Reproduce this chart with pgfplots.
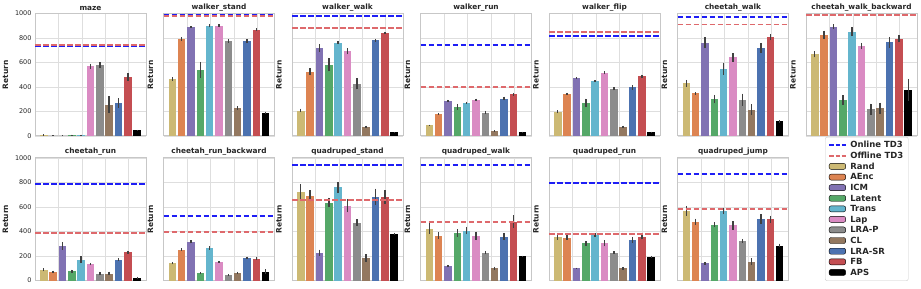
\documentclass[border=0pt]{standalone}
\usepackage{pgfplots}
\pgfplotsset{compat=1.18}
\usepackage{pgfplotstable}
\usepackage{fontspec}
\setmainfont{DejaVu Sans}
\definecolor{c0}{HTML}{CCB974}
\definecolor{c1}{HTML}{DD8452}
\definecolor{c2}{HTML}{8172B3}
\definecolor{c3}{HTML}{55A868}
\definecolor{c4}{HTML}{64B5CD}
\definecolor{c5}{HTML}{DA8BC3}
\definecolor{c6}{HTML}{8C8C8C}
\definecolor{c7}{HTML}{937860}
\definecolor{c8}{HTML}{4C72B0}
\definecolor{c9}{HTML}{C44E52}
\definecolor{c10}{HTML}{000000}
\definecolor{offred}{RGB}{222,105,108}
\definecolor{onblue}{RGB}{30,30,245}

\pgfplotstableread{
m      maze mazeE wstand wstandE wwalk wwalkE wrun wrunE wflip wflipE cwalk cwalkE cwb cwbE crun crunE crb crbE qstand qstandE qwalk qwalkE qrun qrunE qjump qjumpE
Rand   8   5    464 15  208 15  87  5   197 12  429 30  667 25  87  12  139 8   726 60  424 45  359 25  570 40
AEnc   3   2    792 15  525 30  180 8   342 10  347 10  825 35  73  8   253 12  693 45  367 30  351 20  480 25
ICM    3   2    888 8   719 30  287 8   470 8   762 45  893 20  283 30  315 12  228 25  117 10  98  8   140 10
Latent 8   3    541 65  582 55  238 25  270 35  301 35  295 40  76  12  60  10  636 40  389 30  304 20  455 20
Trans  8   3    899 12  762 15  270 8   451 5   549 50  852 35  171 25  264 15  761 45  408 30  372 15  570 25
Lap    568 20   899 12  691 25  295 10  516 12  642 35  735 25  133 10  152 8   611 55  364 35  304 25  450 35
LRA-P  579 25   776 15  426 45  191 15  385 12  295 50  219 45  57  15  41  8   473 25  226 12  228 10  325 15
CL     254 70   227 15  74  10  41  5   74  10  216 45  227 45  57  15  62  10  185 30  98  15  100 12  155 25
LRA-SR 268 40   776 15  781 12  306 15  396 20  721 40  765 45  171 12  185 10  685 65  359 30  332 25  500 40
FB     481 30   869 10  839 10  339 10  489 12  806 25  795 30  231 12  179 10  682 55  481 50  356 20  500 30
APS    46  5    189 10  30  3   30  5   30  5   120 10  377 90  24  5   71  20  378 8   198 5   193 8   285 15
}\data

\pgfplotsset{
  geom/.style={scale only axis, width=111bp, height=122.5bp, anchor=south west,
    xmin=-0.94, xmax=10.94, ymin=0, ymax=1000},
  panel/.style={
    geom,
    ytick={0,200,...,1000}, xtick={1.6,4.1,6.6,9.1}, xticklabels={},
    grid=major, grid style={color=black!13, line width=0.8bp},
    axis line style={color=black!22, line width=1bp},
    major tick length=0pt,
    ylabel={Return},
    ylabel style={font=\bfseries\fontsize{7.5}{9}\selectfont, color=black!85},
    title style={font=\bfseries\fontsize{7.4}{9}\selectfont, color=black!85, yshift=-7bp},
    yticklabel style={font=\fontsize{6.5}{7}\selectfont, color=black!85},
    /pgf/number format/assume math mode=true,
    /pgf/number format/1000 sep={},
    ybar, bar width=0.8, bar shift=0pt,
  },
  noticks/.style={yticklabels={}},
  refl/.style={sharp plot, no marks, color=#1, line width=1.9bp, dash pattern=on 5.5bp off 2.5bp},
}

\newcommand{\panel}[6]{%
\begin{axis}[panel, at={(#3)}, title={#2}, #4]
\pgfplotsinvokeforeach{0,...,10}{%
  \addplot[fill=c##1, draw=none, x filter/.expression={abs(x-##1)<0.5 ? x : nan},
    error bars/.cd, y dir=both, y explicit, error mark=none,
    error bar style={line width=1.4bp, color=black!75}]
    table[x expr=\coordindex, y=#1, y error=#1E] {\data};}
\end{axis}
\begin{axis}[geom, at={(#3)}, hide axis]
\addplot[refl=onblue] coordinates {(-0.94,#5) (10.94,#5)};
\addplot[refl=offred] coordinates {(-0.94,#6) (10.94,#6)};
\end{axis}}

\begin{document}
\begin{tikzpicture}
\path[use as bounding box] (0,0) rectangle (921bp,289bp);
\panel{maze}{maze}{35bp,153bp}{}{733}{741}
\panel{wstand}{walker\_stand}{163.5bp,153bp}{noticks}{986}{982}
\panel{wwalk}{walker\_walk}{292bp,153bp}{noticks}{978}{883}
\panel{wrun}{walker\_run}{420.5bp,153bp}{noticks}{740}{399}
\panel{wflip}{walker\_flip}{549bp,153bp}{noticks}{817}{847}
\panel{cwalk}{cheetah\_walk}{677.5bp,153bp}{noticks}{973}{910}
\panel{cwb}{cheetah\_walk\_backward}{806bp,153bp}{noticks}{988}{985}
\panel{crun}{cheetah\_run}{35bp,8.5bp}{}{788}{391}
\panel{crb}{cheetah\_run\_backward}{163.5bp,8.5bp}{noticks}{527}{399}
\panel{qstand}{quadruped\_stand}{292bp,8.5bp}{noticks}{946}{660}
\panel{qwalk}{quadruped\_walk}{420.5bp,8.5bp}{noticks}{946}{476}
\panel{qrun}{quadruped\_run}{549bp,8.5bp}{noticks}{799}{378}
\panel{qjump}{quadruped\_jump}{677.5bp,8.5bp}{noticks}{870}{585}
\begin{axis}[at={(825bp,3bp)}, anchor=south west, scale only axis, width=90bp, height=149bp,
  hide axis, xmin=0, xmax=1, ymin=0, ymax=1,
  legend cell align=left,
  legend style={at={(0,1)}, anchor=north west, draw=black!20, rounded corners=2bp,
    font=\bfseries\fontsize{8.5}{9}\selectfont, text=black!85, row sep=-1.1bp},
  dashleg/.style={legend image code/.code={%
    \draw[##1, line width=1.9bp] (0bp,0bp) -- (4.5bp,0bp) (6.5bp,0bp) -- (10.5bp,0bp) (12.5bp,0bp) -- (16.5bp,0bp);
    \path (19bp,0bp);}},
  patchleg/.style={legend image code/.code={\fill[##1] (0bp,-2.6bp) rectangle (16.5bp,3.4bp); \path (19bp,0bp);}}]
\addlegendimage{dashleg, color=onblue}
\addlegendentry{Online TD3}
\addlegendimage{dashleg, color=offred}
\addlegendentry{Offline TD3}
\addlegendimage{patchleg, fill=c0}\addlegendentry{Rand}
\addlegendimage{patchleg, fill=c1}\addlegendentry{AEnc}
\addlegendimage{patchleg, fill=c2}\addlegendentry{ICM}
\addlegendimage{patchleg, fill=c3}\addlegendentry{Latent}
\addlegendimage{patchleg, fill=c4}\addlegendentry{Trans}
\addlegendimage{patchleg, fill=c5}\addlegendentry{Lap}
\addlegendimage{patchleg, fill=c6}\addlegendentry{LRA-P}
\addlegendimage{patchleg, fill=c7}\addlegendentry{CL}
\addlegendimage{patchleg, fill=c8}\addlegendentry{LRA-SR}
\addlegendimage{patchleg, fill=c9}\addlegendentry{FB}
\addlegendimage{patchleg, fill=c10}\addlegendentry{APS}
\end{axis}
\end{tikzpicture}
\end{document}
